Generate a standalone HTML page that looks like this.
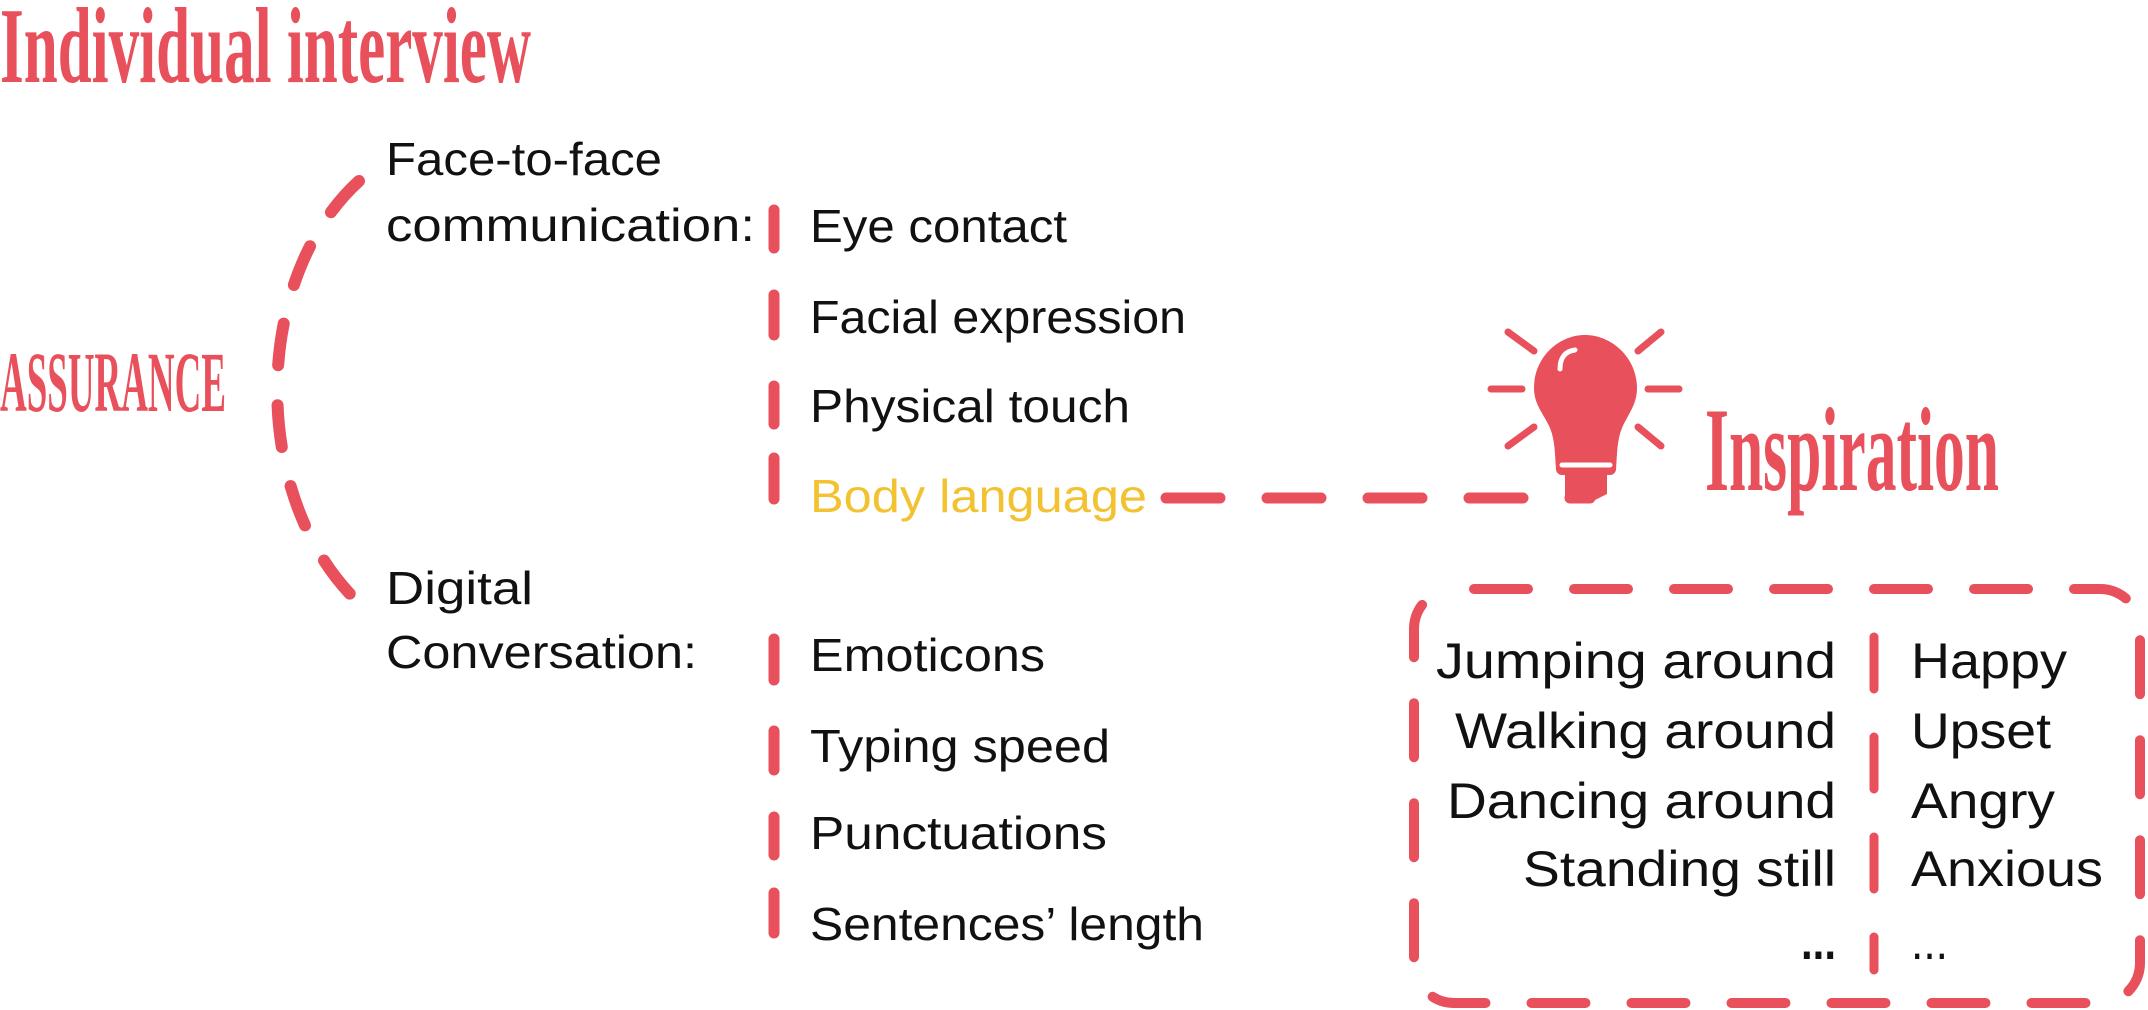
<!DOCTYPE html>
<html><head><meta charset="utf-8"><style>
html,body{margin:0;padding:0;background:#fff;}
svg{display:block;}
.t{font-family:"Liberation Sans",sans-serif;font-size:46px;fill:#111;}
.b{font-family:"Liberation Sans",sans-serif;font-size:50px;fill:#111;}
.s{font-family:"Liberation Serif",serif;fill:#E8505B;font-weight:bold;}
</style></head><body>
<svg width="2148" height="1010" viewBox="0 0 2148 1010" xmlns="http://www.w3.org/2000/svg">
<g stroke="#E8505B" fill="none" stroke-linecap="round">
<path d="M359,181 C250,280 250,500 359,603" stroke-width="12" stroke-dasharray="42 40"/>
<g stroke-width="11">
<line x1="774" y1="210" x2="774" y2="248"/>
<line x1="774" y1="295" x2="774" y2="335"/>
<line x1="774" y1="386" x2="774" y2="424"/>
<line x1="774" y1="458" x2="774" y2="499"/>
<line x1="774" y1="639" x2="774" y2="680"/>
<line x1="774" y1="731" x2="774" y2="770"/>
<line x1="774" y1="817" x2="774" y2="855"/>
<line x1="774" y1="893" x2="774" y2="933"/>
</g>
<line x1="1166" y1="498" x2="1590" y2="498" stroke-width="11" stroke-dasharray="54 47"/>
<rect x="1414" y="589" width="726" height="414" rx="40" stroke-width="10" stroke-dasharray="54 46" stroke-dashoffset="-20"/>
<line x1="1874" y1="637" x2="1874" y2="970" stroke-width="9" stroke-dasharray="52 48"/>
<g stroke-width="7">
<line x1="1491" y1="389" x2="1522" y2="389"/>
<line x1="1648" y1="389" x2="1679" y2="389"/>
<line x1="1508" y1="332" x2="1534" y2="351"/>
<line x1="1661" y1="332" x2="1638" y2="351"/>
<line x1="1534" y1="427" x2="1508" y2="446"/>
<line x1="1638" y1="427" x2="1661" y2="446"/>
</g>
</g>
<g fill="#E8505B">
<path d="M1585,335 C1612,335 1637,358 1637,388 C1637,405 1628,414 1622,428 C1617,440 1617,455 1616,470 L1556,470 C1555,455 1555,440 1550,428 C1544,414 1534,405 1534,388 C1534,358 1558,335 1585,335 Z"/>
<rect x="1556" y="455" width="60" height="20" rx="6"/>
<path d="M1565,470 L1607,470 L1607,494 L1593,501 L1565,501 Z"/>
</g>
<path d="M1560,369 C1560,357 1566,351 1575,350" stroke="#fff" stroke-width="5" fill="none" stroke-linecap="round"/>
<line x1="1562" y1="465" x2="1610" y2="465" stroke="#fff" stroke-width="5" stroke-linecap="round"/>

<text class="s" x="0" y="82" font-size="108" textLength="531" lengthAdjust="spacingAndGlyphs">Individual interview</text>
<text class="s" x="0" y="411" font-size="86" textLength="226" lengthAdjust="spacingAndGlyphs">ASSURANCE</text>
<text class="s" x="1705" y="490" font-size="120" textLength="294" lengthAdjust="spacingAndGlyphs">Inspiration</text>

<text class="t" x="386" y="175" textLength="276" lengthAdjust="spacingAndGlyphs">Face-to-face</text>
<text class="t" x="386" y="241" textLength="369" lengthAdjust="spacingAndGlyphs">communication:</text>
<text class="t" x="810" y="242" textLength="257" lengthAdjust="spacingAndGlyphs">Eye contact</text>
<text class="t" x="810" y="333" textLength="376" lengthAdjust="spacingAndGlyphs">Facial expression</text>
<text class="t" x="810" y="422" textLength="320" lengthAdjust="spacingAndGlyphs">Physical touch</text>
<text class="t" x="810" y="512" textLength="337" lengthAdjust="spacingAndGlyphs" style="fill:#F2C230">Body language</text>
<text class="t" x="386" y="604" textLength="147" lengthAdjust="spacingAndGlyphs">Digital</text>
<text class="t" x="386" y="668" textLength="311" lengthAdjust="spacingAndGlyphs">Conversation:</text>
<text class="t" x="810" y="671" textLength="235" lengthAdjust="spacingAndGlyphs">Emoticons</text>
<text class="t" x="810" y="762" textLength="300" lengthAdjust="spacingAndGlyphs">Typing speed</text>
<text class="t" x="810" y="849" textLength="297" lengthAdjust="spacingAndGlyphs">Punctuations</text>
<text class="t" x="810" y="940" textLength="394" lengthAdjust="spacingAndGlyphs">Sentences’ length</text>

<text class="b" x="1436" y="678" textLength="400" lengthAdjust="spacingAndGlyphs">Jumping around</text>
<text class="b" x="1455" y="748" textLength="381" lengthAdjust="spacingAndGlyphs">Walking around</text>
<text class="b" x="1447" y="818" textLength="389" lengthAdjust="spacingAndGlyphs">Dancing around</text>
<text class="b" x="1523" y="886" textLength="313" lengthAdjust="spacingAndGlyphs">Standing still</text>
<text class="b" x="1801" y="959" textLength="35" lengthAdjust="spacingAndGlyphs" font-weight="bold">...</text>
<text class="b" x="1911" y="678" textLength="156" lengthAdjust="spacingAndGlyphs">Happy</text>
<text class="b" x="1911" y="748" textLength="140" lengthAdjust="spacingAndGlyphs">Upset</text>
<text class="b" x="1911" y="818" textLength="144" lengthAdjust="spacingAndGlyphs">Angry</text>
<text class="b" x="1911" y="886" textLength="192" lengthAdjust="spacingAndGlyphs">Anxious</text>
<text class="b" x="1911" y="959" textLength="37" lengthAdjust="spacingAndGlyphs">...</text>
</svg>
</body></html>
